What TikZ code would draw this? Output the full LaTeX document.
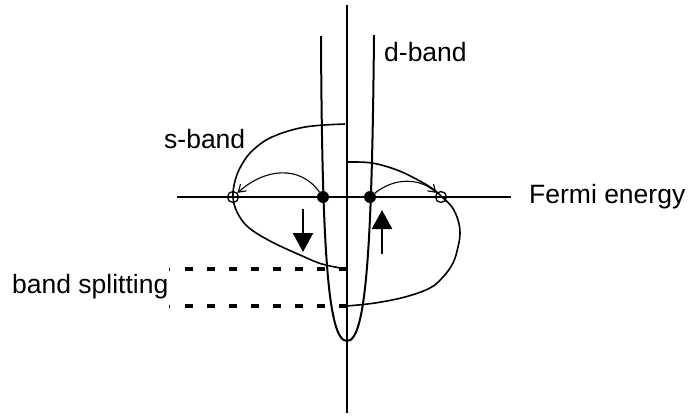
\documentclass[tikz,border=0pt]{standalone}
\usepackage{fontspec}
\setmainfont{Liberation Sans}
\usetikzlibrary{arrows.meta}
\begin{document}
\begin{tikzpicture}[x=1pt,y=-1pt,
  lbl/.style={inner sep=0pt,anchor=base west,font=\fontsize{26.5}{30}\selectfont},
  axisline/.style={line width=2.2pt},
  sband/.style={line width=1.6pt},
  dband/.style={line width=2pt},
  filldot/.style={circle,fill=black,minimum size=12pt,inner sep=0pt},
  opendot/.style={circle,draw=black,line width=1.3pt,minimum size=11pt,inner sep=0pt},
  hop/.style={line width=1.1pt,-{Straight Barb[length=7pt,width=9pt]}},
  spin/.style={line width=2.4pt,-{Triangle[length=19pt,width=20pt]}},
  split/.style={line width=3.4pt,dash pattern=on 8.3pt off 13.7pt},
  tick/.style={line width=1pt}]
\useasboundingbox (0,0) rectangle (693,416);

% axis ends
\coordinate (vtop) at (347,5);
\coordinate (vbot) at (347,413);
\coordinate (hleft) at (177,197);
\coordinate (hright) at (511,197);

% band splitting dashed lines
\coordinate (sp1t) at (169,269);
\coordinate (sp1a) at (185,269);
\coordinate (sp1b) at (347,269);
\coordinate (sp2t) at (169,306);
\coordinate (sp2a) at (185,306);
\coordinate (sp2b) at (347,306);
\draw[split] (sp1a) -- (sp1b);
\draw[split] (sp2a) -- (sp2b);
\draw[tick] ([yshift=-1.5pt]sp1t) -- ([yshift=1.5pt]sp1t);
\draw[tick] ([yshift=-1.5pt]sp2t) -- ([yshift=1.5pt]sp2t);

% s-bands
\draw[sband] plot[smooth,tension=0.6] coordinates {(345,124) (305,127) (272,137) (252,151) (241,166) (235,181) (233,197) (237,212) (248,227) (270,241) (300,255) (322,264) (346,269)};
\draw[sband] plot[smooth,tension=0.6] coordinates {(348,162) (372,163) (397,170) (418,180) (433,189) (442,197) (452,207) (458,220) (460,233) (458,247) (453,263) (443,277) (430,288) (405,297) (375,303) (347,306)};

% d-band
\coordinate (dtl) at (321,36);
\coordinate (dtr) at (374,35);
\coordinate (dbot) at (347,341);
\draw[dband] (dtl) .. controls (322,250) and (328,341) .. (dbot)
             .. controls (366,341) and (372,250) .. (dtr);

% axes
\draw[axisline] (vtop) -- (vbot);
\draw[axisline] (hleft) -- (hright);

% states at the Fermi energy
\node[filldot] (dL) at (323,197) {};
\node[filldot] (dR) at (370,197) {};
\node[opendot] (cL) at (233,197) {};
\node[opendot] (cR) at (441,197) {};

% transitions
\draw[hop] (dL) .. controls (300,165) and (265,168) .. (cL);
\draw[hop] (dR) .. controls (395,177) and (420,178) .. (cR);

% spin arrows
\coordinate (dn1) at (303,209);
\coordinate (dn2) at (303,252);
\coordinate (up1) at (382,254);
\coordinate (up2) at (382,210);
\draw[spin] (dn1) -- (dn2);
\draw[spin] (up1) -- (up2);

% labels
\node[lbl] (ldb) at (384,61) {d-band};
\node[lbl] (lsb) at (164,148) {s-band};
\node[lbl] (lfe) at (529,203) {Fermi energy};
\node[lbl] (lbs) at (12,293) {band splitting};
\end{tikzpicture}
\end{document}
